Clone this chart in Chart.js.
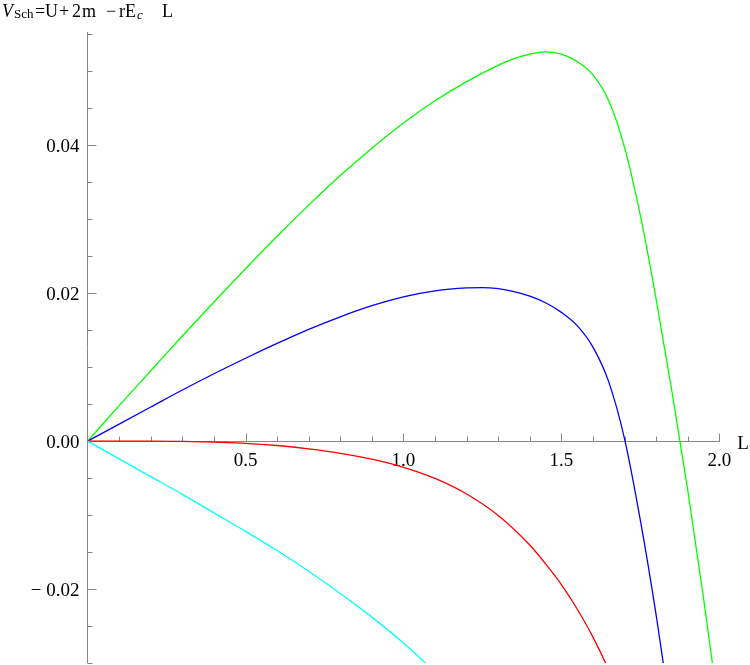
<!DOCTYPE html>
<html>
<head>
<meta charset="utf-8">
<script src="https://cdn.jsdelivr.net/npm/chart.js@4.4.1/dist/chart.umd.min.js"></script>
<style>
  body { margin: 0; background: #fff; }
  #wrap { width: 750px; height: 665px; }
</style>
</head>
<body>
<div id="wrap"><canvas id="potential"></canvas></div>
<script>
// values (L, V_Sch) for each curve
const greenL = [0, 0.1, 0.2, 0.3, 0.4, 0.5, 0.6, 0.7, 0.8, 0.9, 1.0, 1.1, 1.2, 1.3, 1.35, 1.4, 1.45, 1.5, 1.55, 1.6, 1.65, 1.7, 1.75, 1.8, 1.85, 1.9, 1.95, 2.0];
const greenV = [0, 0.0048, 0.0095, 0.0142, 0.0188, 0.0233, 0.0277, 0.0319, 0.0359, 0.0396, 0.0430, 0.0460, 0.0486, 0.0508, 0.0517, 0.0523, 0.0526, 0.0523, 0.0513, 0.0495, 0.0460, 0.0397, 0.0305, 0.0192, 0.0067, -0.0066, -0.0212, -0.037];

const blueL = [0, 0.1, 0.2, 0.3, 0.4, 0.5, 0.6, 0.7, 0.8, 0.9, 1.0, 1.1, 1.2, 1.25, 1.3, 1.35, 1.4, 1.45, 1.5, 1.55, 1.6, 1.65, 1.7, 1.75, 1.8, 1.85];
const blueV = [0, 0.0023, 0.0046, 0.0069, 0.0091, 0.0112, 0.0132, 0.0151, 0.0168, 0.0183, 0.0195, 0.0203, 0.0207, 0.02075, 0.0206, 0.0202, 0.0196, 0.0187, 0.0174, 0.0156, 0.0127, 0.0080, 0.0003, -0.0107, -0.0235, -0.038];

const redL = [0, 0.2, 0.3, 0.4, 0.5, 0.6, 0.7, 0.8, 0.9, 1.0, 1.1, 1.2, 1.3, 1.4, 1.45, 1.5, 1.55, 1.6, 1.65, 1.7];
const redV = [0, 0, -0.00005, -0.00015, -0.0003, -0.0006, -0.00105, -0.00165, -0.00245, -0.00355, -0.00505, -0.00715, -0.01005, -0.01405, -0.0166, -0.0194, -0.0227, -0.0265, -0.0310, -0.0366];

const cyanL = [0, 0.1, 0.2, 0.3, 0.4, 0.5, 0.6, 0.7, 0.8, 0.9, 1.0, 1.1];
const cyanV = [0, -0.0024, -0.0048, -0.0072, -0.0097, -0.0122, -0.0148, -0.0176, -0.0206, -0.0238, -0.0273, -0.0312];

const xTickValues = [0.5, 1.0, 1.5, 2.0];
const xTickLabels = ["0.5", "1.0", "1.5", "2.0"];
const yTickValues = [-0.02, 0, 0.02, 0.04];
const yTickLabels = ["\u2212 0.02", "0.00", "0.02", "0.04"];

const toPoints = (xs, ys) => xs.map((x, i) => ({ x: x, y: ys[i] }));

const serif = '"Liberation Serif", "DejaVu Serif", serif';

// Mathematica style axes crossing at the origin
const mathAxes = {
  id: "mathAxes",
  beforeDatasetsDraw(chart) {
    const { ctx, chartArea, scales: { x, y } } = chart;
    const x0 = Math.floor(x.getPixelForValue(0)) + 0.5;
    const y0 = Math.floor(y.getPixelForValue(0)) + 0.5;
    ctx.save();
    ctx.strokeStyle = "#878787";
    ctx.lineWidth = 1;
    ctx.beginPath();
    ctx.moveTo(x0, chartArea.top);
    ctx.lineTo(x0, chartArea.bottom);
    ctx.moveTo(x0, y0);
    ctx.lineTo(x.getPixelForValue(2) + 0.5, y0);
    for (let i = 1; i <= 20; i++) {
      const px = Math.round(x.getPixelForValue(i / 10)) + 0.5;
      const len = i % 5 === 0 ? 8 : 5;
      ctx.moveTo(px, y0);
      ctx.lineTo(px, y0 - len);
    }
    for (let i = -6; i <= 11; i++) {
      if (i === 0) continue;
      const py = Math.round(y.getPixelForValue(i * 0.005)) + 0.5;
      const len = i % 4 === 0 ? 9 : 5;
      ctx.moveTo(x0, py);
      ctx.lineTo(x0 + len, py);
    }
    ctx.stroke();

    ctx.fillStyle = "#000";
    ctx.font = "19px " + serif;
    ctx.textBaseline = "alphabetic";
    ctx.textAlign = "center";
    xTickValues.forEach((v, i) => {
      ctx.fillText(xTickLabels[i], x.getPixelForValue(v), y0 + 24);
    });
    ctx.textAlign = "right";
    yTickValues.forEach((v, i) => {
      ctx.fillText(yTickLabels[i], x0 - 8, y.getPixelForValue(v) + 7);
    });
    ctx.textAlign = "left";
    ctx.fillText("L", x.getPixelForValue(2) + 18, y0 + 7);
    ctx.restore();
  },
  afterDraw(chart) {
    const ctx = chart.ctx;
    const big = "18px " + serif;
    const small = "13px " + serif;
    const parts = [
      ["V", 2, 17, "italic " + big],
      ["Sch", 14, 18, small],
      ["=", 35, 17, big],
      ["U", 45, 17, big],
      ["+", 59, 17, big],
      ["2", 72, 17, big],
      ["m", 82, 17, big],
      ["\u2212", 106, 17, big],
      ["r", 119, 17, big],
      ["E", 125, 17, big],
      ["c", 137, 19, "italic " + small],
      ["L", 162, 17, big]
    ];
    ctx.save();
    ctx.fillStyle = "#000";
    ctx.textAlign = "left";
    ctx.textBaseline = "alphabetic";
    parts.forEach(([t, px, py, f]) => {
      ctx.font = f;
      ctx.fillText(t, px, py);
    });
    ctx.restore();
  }
};

const line = (pts, color) => ({
  data: pts,
  borderColor: color,
  borderWidth: 1.3,
  pointRadius: 0,
  fill: false,
  cubicInterpolationMode: "monotone",
  clip: 0
});

new Chart(document.getElementById("potential"), {
  type: "line",
  data: {
    datasets: [
      line(toPoints(cyanL, cyanV), "rgb(0, 255, 255)"),
      line(toPoints(redL, redV), "rgb(255, 0, 0)"),
      line(toPoints(blueL, blueV), "rgb(0, 0, 255)"),
      line(toPoints(greenL, greenV), "rgb(0, 255, 0)")
    ]
  },
  options: {
    responsive: true,
    maintainAspectRatio: false,
    animation: false,
    events: [],
    layout: { padding: { left: 87.6, right: 30.7, top: 32, bottom: 2 } },
    scales: {
      x: { type: "linear", min: 0, max: 2, display: false },
      y: { type: "linear", min: -0.03, max: 0.0553, display: false }
    },
    plugins: {
      legend: { display: false },
      tooltip: { enabled: false }
    }
  },
  plugins: [mathAxes]
});
</script>
</body>
</html>
